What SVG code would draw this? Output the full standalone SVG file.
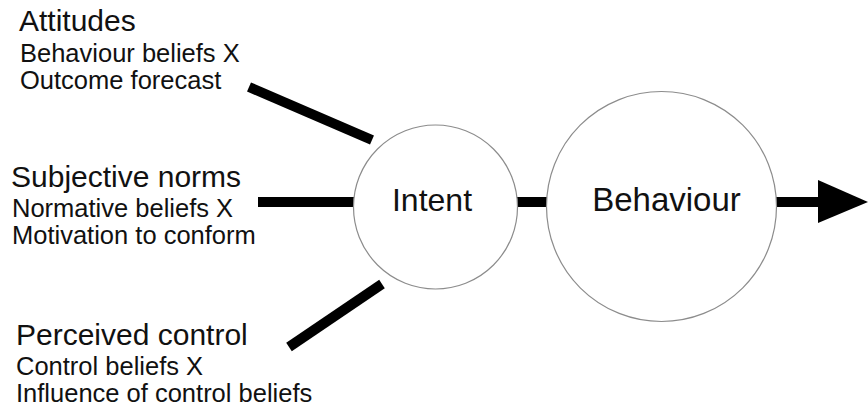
<svg xmlns="http://www.w3.org/2000/svg" width="868" height="408" viewBox="0 0 868 408">
  <style>
    text { font-family: "Liberation Sans", Arial, sans-serif; fill: #111; }
    .title { font-size: 30px; }
    .sub { font-size: 25.5px; }
    .label { font-size: 32px; text-anchor: middle; }
    .label.wide { font-size: 33px; }
    .node { fill: #fff; stroke: #8c8c8c; stroke-width: 1.2; }
    .link { stroke: #000; stroke-width: 10; stroke-linecap: butt; fill: none; }
  </style>
  <rect width="868" height="408" fill="#fff"/>

  <!-- factor labels -->
  <g id="attitudes">
    <text class="title" x="19" y="31">Attitudes</text>
    <text class="sub" x="20" y="62">Behaviour beliefs X</text>
    <text class="sub" x="20" y="89">Outcome forecast</text>
  </g>
  <g id="subjective-norms">
    <text class="title" x="11" y="187">Subjective norms</text>
    <text class="sub" x="12" y="217">Normative beliefs X</text>
    <text class="sub" x="12" y="244">Motivation to conform</text>
  </g>
  <g id="perceived-control">
    <text class="title" x="16" y="345">Perceived control</text>
    <text class="sub" x="16" y="375">Control beliefs X</text>
    <text class="sub" x="16" y="402">Influence of control beliefs</text>
  </g>

  <!-- connectors -->
  <g id="connectors">
    <line class="link" x1="249" y1="87" x2="372" y2="140"/>
    <line class="link" x1="258" y1="202" x2="355" y2="202"/>
    <line class="link" x1="289" y1="347" x2="382" y2="284"/>
    <line class="link" x1="516" y1="202" x2="547" y2="202"/>
    <line class="link" x1="776" y1="202" x2="820" y2="202"/>
    <polygon points="818,180 868,202 818,223" fill="#000"/>
  </g>

  <!-- nodes -->
  <g id="intent">
    <circle class="node" cx="435.5" cy="207" r="82"/>
    <text class="label" x="432" y="211">Intent</text>
  </g>
  <g id="behaviour">
    <circle class="node" cx="661.5" cy="206.5" r="115"/>
    <text class="label wide" x="666.5" y="211">Behaviour</text>
  </g>
</svg>
